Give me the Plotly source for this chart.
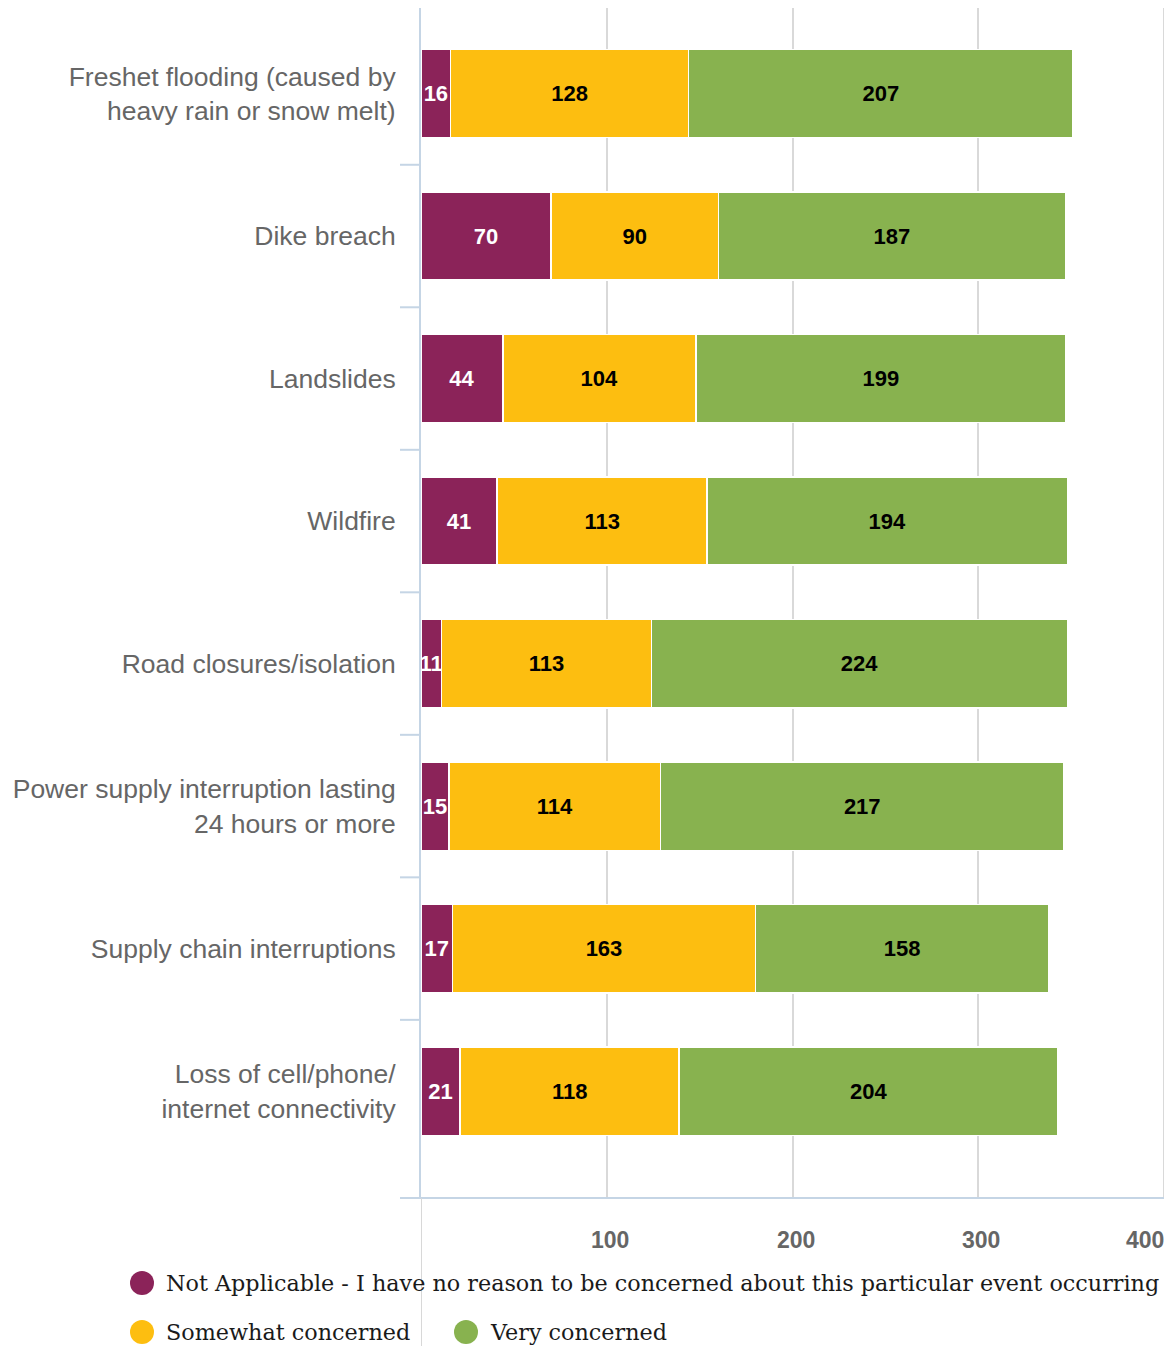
import plotly.graph_objects as go

categories = [
    "Freshet flooding (caused by<br>heavy rain or snow melt)",
    "Dike breach",
    "Landslides",
    "Wildfire",
    "Road closures/isolation",
    "Power supply interruption lasting<br>24 hours or more",
    "Supply chain interruptions",
    "Loss of cell/phone/<br>internet connectivity",
]
not_applicable = [16, 70, 44, 41, 11, 15, 17, 21]
somewhat = [128, 90, 104, 113, 113, 114, 163, 118]
very = [207, 187, 199, 194, 224, 217, 158, 204]

series_names = [
    "Not Applicable - I have no reason to be concerned about this particular event occurring",
    "Somewhat concerned",
    "Very concerned",
]
series_values = [not_applicable, somewhat, very]
colors = ["#8B2359", "#FDBE10", "#88B24F"]
text_colors = ["#FFFFFF", "#000000", "#000000"]
x_ticks = [100, 200, 300, 400]
x_ticktext = ["100", "200", "300", "400"]

# page offset (browser body margin)
OFF = 8
W, H = 1172 - OFF, 1346 - OFF
L, R, T, B = 421 - OFF, 6, 0, 148
pw, ph = W - L - R, H - T - B


def px(xp):
    return (xp - OFF - L) / pw


def py(yp):
    return (H - B - (yp - OFF)) / ph


fig = go.Figure()
for name, vals, col, tc in zip(series_names, series_values, colors, text_colors):
    fig.add_trace(go.Bar(
        y=categories, x=vals, name=name, orientation="h",
        marker=dict(color=col, line=dict(color="#FFFFFF", width=1.5)),
        text=vals, texttemplate="%{x}", textposition="inside",
        insidetextanchor="middle",
        textfont=dict(color=tc, size=22, family="Liberation Sans, Arial", weight="bold"),
        showlegend=False, cliponaxis=False,
    ))

shapes = []
# category boundary ticks on the y axis
for i in range(len(categories) - 1):
    shapes.append(dict(type="line", xref="paper", yref="y",
                       x0=px(400), x1=0, y0=i + 0.5, y1=i + 0.5,
                       line=dict(color="#C5D5E5", width=2)))
# x-axis line extension to the left
shapes.append(dict(type="line", xref="paper", yref="paper",
                   x0=px(400), x1=0, y0=0, y1=0,
                   line=dict(color="#C5D5E5", width=2)))
# x-axis line along the bottom of the plot
shapes.append(dict(type="line", xref="paper", yref="paper",
                   x0=0, x1=1, y0=0, y1=0,
                   line=dict(color="#C5D5E5", width=2)))
# gray line continuing below the axis at zero
shapes.append(dict(type="line", xref="x", yref="paper",
                   x0=0, x1=0, y0=0, y1=py(1346),
                   line=dict(color="#D8D8D8", width=2)))

annotations = []
# x tick labels (last one justified inside the page, as in the reference)
for v, t in zip(x_ticks, x_ticktext):
    last = v == x_ticks[-1]
    annotations.append(dict(xref="x", yref="paper", x=v, y=py(1240),
                            xanchor="right" if last else "center", yanchor="middle",
                            xshift=2 if last else 3,
                            showarrow=False, text=t,
                            font=dict(family="Liberation Sans, Arial", size=23,
                                      color="#666666", weight="bold")))

# manual legend
legend_items = [
    (series_names[0], colors[0], 142, 1283),
    (series_names[1], colors[1], 142, 1332),
    (series_names[2], colors[2], 466, 1332),
]
for name, col, cx, cy in legend_items:
    shapes.append(dict(type="circle", xref="paper", yref="paper",
                       xsizemode="pixel", ysizemode="pixel",
                       xanchor=px(cx), yanchor=py(cy),
                       x0=-12, x1=12, y0=-12, y1=12,
                       fillcolor=col, line=dict(width=0)))
    annotations.append(dict(xref="paper", yref="paper", x=px(cx + 22), y=py(cy),
                            xanchor="left", yanchor="middle", showarrow=False,
                            text=name,
                            font=dict(family="DejaVu Serif, serif", size=22.3, color="#1a1a1a")))

fig.update_layout(
    barmode="stack",
    bargap=0.38,
    width=W, height=H,
    margin=dict(l=L, r=R, t=T, b=B, autoexpand=False),
    paper_bgcolor="white", plot_bgcolor="white",
    showlegend=False,
    uniformtext=dict(minsize=22, mode="show"),
    shapes=shapes,
    annotations=annotations,
    xaxis=dict(
        range=[0, 401], tickvals=x_ticks, showgrid=True,
        gridcolor="#D9D9D9", gridwidth=2, zeroline=False,
        showline=False, ticks="", showticklabels=False,
    ),
    yaxis=dict(
        type="category", range=[7.75, -0.6],
        showline=True, linecolor="#C5D5E5", linewidth=2,
        showgrid=False, zeroline=False, ticks="",
        tickfont=dict(family="Liberation Sans, Arial", size=26.5, color="#666666"),
        ticklabelstandoff=18,
    ),
)

fig.write_html("out.html")
